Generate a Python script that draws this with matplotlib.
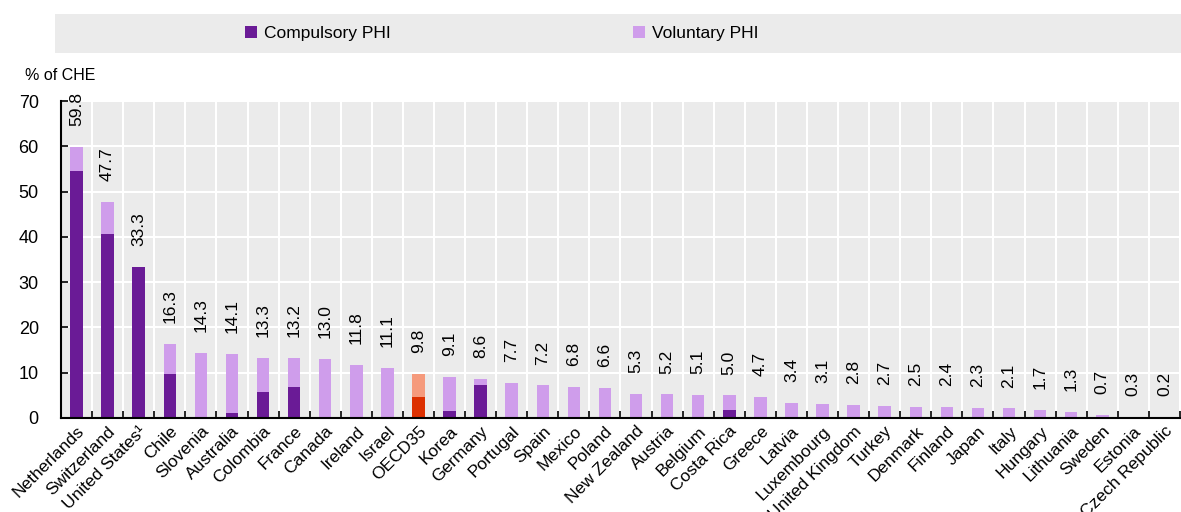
import matplotlib
matplotlib.use("Agg")
import matplotlib.pyplot as plt
from matplotlib.patches import Rectangle, Patch
import numpy as np

plt.rcParams['font.family'] = ['Liberation Sans Narrow', 'Liberation Sans', 'DejaVu Sans']

countries = ["Netherlands", "Switzerland", "United States\u00b9", "Chile", "Slovenia", "Australia",
             "Colombia", "France", "Canada", "Ireland", "Israel", "OECD35", "Korea", "Germany",
             "Portugal", "Spain", "Mexico", "Poland", "New Zealand", "Austria", "Belgium",
             "Costa Rica", "Greece", "Latvia", "Luxembourg", "United Kingdom", "Turkey",
             "Denmark", "Finland", "Japan", "Italy", "Hungary", "Lithuania", "Sweden",
             "Estonia", "Czech Republic"]
total = [59.8, 47.7, 33.3, 16.3, 14.3, 14.1, 13.3, 13.2, 13.0, 11.8, 11.1, 9.8, 9.1, 8.6,
         7.7, 7.2, 6.8, 6.6, 5.3, 5.2, 5.1, 5.0, 4.7, 3.4, 3.1, 2.8, 2.7, 2.5, 2.4, 2.3,
         2.1, 1.7, 1.3, 0.7, 0.3, 0.2]
compulsory = [54.5, 40.7, 33.3, 9.7, 0.0, 1.1, 5.7, 6.8, 0.0, 0.0, 0.0, 4.6, 1.5, 7.3,
              0.0, 0.0, 0.0, 0.3, 0.0, 0.0, 0.0, 1.7, 0.0, 0.0, 0.0, 0.0, 0.0, 0.0, 0.3, 0.0,
              0.0, 0.0, 0.0, 0.0, 0.1, 0.0]

dark = '#6A1B96'
light = '#CF9DEB'
dark_oecd = '#DC3000'
light_oecd = '#F59A7C'

total = np.array(total)
compulsory = np.array(compulsory)
voluntary = total - compulsory
x = np.arange(len(countries))

fig = plt.figure(figsize=(11.81, 5.12), dpi=100)
ax = fig.add_axes([61 / 1181, 94 / 512, 1119 / 1181, 317 / 512])
ax.set_facecolor('#EBEBEB')

is_oecd = np.array([c == "OECD35" for c in countries])
c_dark = [dark_oecd if o else dark for o in is_oecd]
c_light = [light_oecd if o else light for o in is_oecd]

ax.bar(x, compulsory, width=0.4, color=c_dark, zorder=3)
ax.bar(x, voluntary, width=0.4, bottom=compulsory, color=c_light, zorder=3)

for xi, t in zip(x, total):
    ax.annotate(f"{t:.1f}", (xi, t), xytext=(0, 15), textcoords='offset points',
                rotation=90, ha='center', va='bottom', fontsize=12.5, annotation_clip=False)

ax.set_xlim(-0.5, len(countries) - 0.5)
ax.set_ylim(0, 70)
ax.set_yticks(np.arange(0, 71, 10))
ax.set_xticks(x)
ax.set_xticklabels(countries, rotation=45, ha='right', rotation_mode='anchor', fontsize=12.5)
ax.set_xticks(np.arange(-0.5, len(countries), 1), minor=True)
ax.tick_params(axis='x', which='major', length=0, pad=4)
ax.tick_params(axis='x', which='minor', direction='in', length=5, width=1.2, color='black')
ax.tick_params(axis='y', direction='in', length=5, width=1.2, labelsize=13, pad=16)

ax.grid(True, axis='y', color='white', linewidth=1.5, zorder=1)
ax.grid(True, axis='x', which='minor', color='white', linewidth=1.5, zorder=1)
ax.set_axisbelow(True)

for s in ['top', 'right']:
    ax.spines[s].set_visible(False)
for s in ['left', 'bottom']:
    ax.spines[s].set_linewidth(1.5)
    ax.spines[s].set_zorder(4)

fig.text(25 / 1181, 1 - 76 / 512, "% of CHE", fontsize=11.5, va='center', ha='left')

# legend band
fig.patches.append(Rectangle((55 / 1181, 1 - 53 / 512), 1126 / 1181, 39 / 512,
                             transform=fig.transFigure, facecolor='#EBEBEB', edgecolor='none', zorder=0))
handles = [Patch(facecolor=dark), Patch(facecolor=light)]
fig.legend(handles, ["Compulsory PHI", "Voluntary PHI"], ncol=2, frameon=False,
           loc='center left', bbox_to_anchor=(229 / 1181, 1 - 33.5 / 512),
           fontsize=12.5, handlelength=0.7, handleheight=0.7, handletextpad=0.4,
           columnspacing=13.95)

fig.savefig("out.png", dpi=100)
